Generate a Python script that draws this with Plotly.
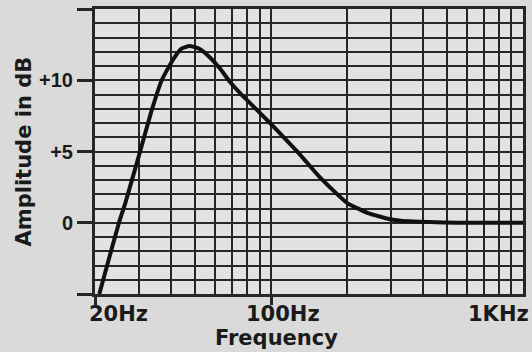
import numpy as np
import plotly.graph_objects as go

# response curve
freq_hz = [20.8, 23.4, 24.9, 26.4, 30.2, 33.6, 36.8, 41.0, 44.0, 47.5, 52.1, 57.2,
           62.8, 68.6, 75.3, 82.5, 99.0, 115.0, 130.0, 156.0, 200.0, 241.0, 296.0,
           350.0, 426.0, 550.0, 700.0, 1000.0]
gain_db = [-5.0, -1.7, 0.0, 1.4, 5.0, 7.9, 10.0, 11.5, 12.2, 12.4, 12.2, 11.6,
           10.8, 9.9, 9.1, 8.4, 7.0, 5.8, 4.8, 3.2, 1.4, 0.7, 0.25,
           0.1, 0.05, 0.0, 0.0, 0.0]

# grid / tick definitions
x_major = [20, 100]
x_minor = [30, 40, 50, 60, 70, 80, 90, 200, 300, 400, 500, 600, 700, 800, 900, 1000]
x_labels = ["20Hz", "100Hz", "1KHz"]
y_ticks = [-5, 0, 5, 10, 15]
y_labels = ["", "0", "+5", "+10", ""]

ink = "#262626"
font_main = dict(family="DejaVu Sans", size=21, color="#1a1a1a", weight="bold")

fig = go.Figure()
fig.add_trace(go.Scatter(
    x=freq_hz, y=gain_db, mode="lines",
    line=dict(color="#111111", width=4, shape="spline", smoothing=0.5),
    showlegend=False, hoverinfo="skip",
))

fig.update_xaxes(
    type="log", range=[np.log10(20), np.log10(1000)], automargin=False,
    tickvals=x_major, showticklabels=False,
    ticks="outside", ticklen=8, tickwidth=2.5, tickcolor=ink,
    showgrid=True, gridcolor=ink, gridwidth=2,
    minor=dict(tickvals=x_minor, showgrid=True, gridcolor=ink, gridwidth=2, ticks=""),
    showline=True, linecolor=ink, linewidth=3, mirror=True, zeroline=False,
)
fig.update_yaxes(
    range=[-5, 15], tickvals=y_ticks, ticktext=y_labels, automargin=False,
    ticks="outside", ticklen=15, tickwidth=2.5, tickcolor=ink,
    tickfont=dict(family="Liberation Sans", size=20, color="#1a1a1a", weight="bold"),
    showgrid=True, gridcolor=ink, gridwidth=2,
    minor=dict(dtick=1, showgrid=True, gridcolor=ink, gridwidth=2, ticks=""),
    showline=True, linecolor=ink, linewidth=3, mirror=True, zeroline=False,
)

# frequency labels sit off-centre from their grid lines, as in the original
label_pos = [(20, "left", -8), (100, "center", 12), (1000, "right", 8)]
for (f, anchor, shift), txt in zip(label_pos, x_labels):
    fig.add_annotation(x=np.log10(f), y=0, xref="x", yref="paper", text=txt,
                       showarrow=False, xanchor=anchor, yanchor="middle",
                       xshift=shift, yshift=-20, font=font_main)

fig.add_annotation(x=0.425, y=0, xref="paper", yref="paper", text="Frequency",
                   showarrow=False, xanchor="center", yanchor="middle",
                   yshift=-44, font=font_main)
fig.add_annotation(x=-0.166, y=0.5, xref="paper", yref="paper", text="Amplitude in dB",
                   showarrow=False, textangle=-90, xanchor="center", yanchor="middle",
                   font=font_main)

fig.update_layout(
    width=532, height=352,
    margin=dict(l=95, r=9, t=9, b=58, autoexpand=False),
    paper_bgcolor="#dadada",
    plot_bgcolor="#e2e2e2",
)

# drop the browser's default body margin so the figure fills the window
fig.write_html("out.html", config={"displayModeBar": False},
               post_script="document.body.style.margin='0';")
